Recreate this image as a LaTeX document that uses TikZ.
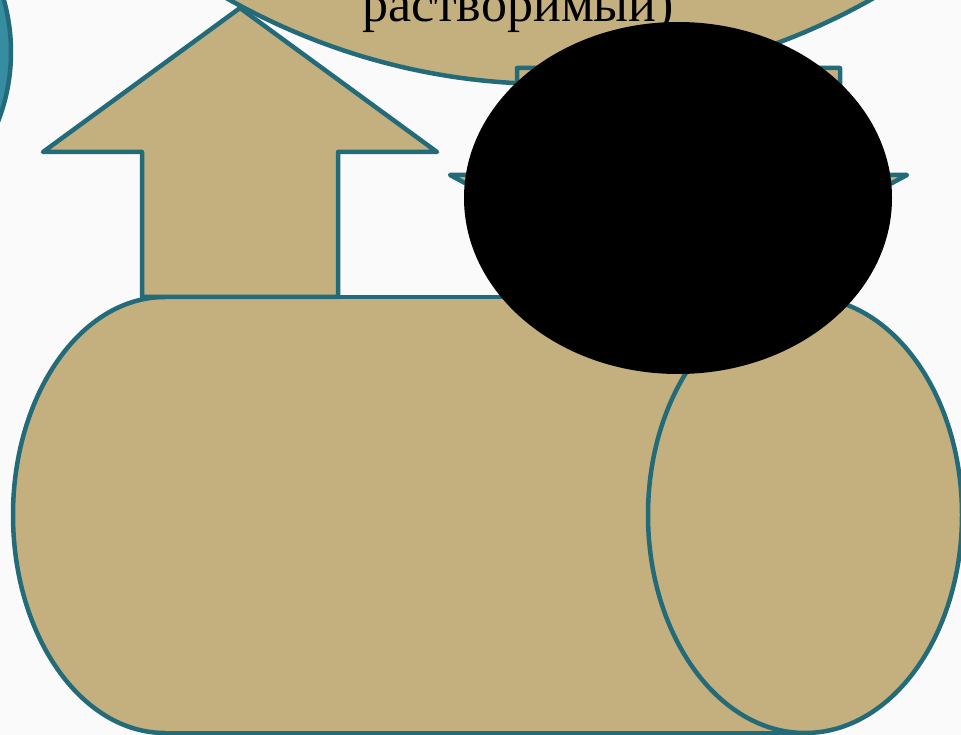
\documentclass[tikz,border=0pt]{standalone}
\usepackage{fontspec}
\setmainfont{Liberation Serif}
\definecolor{tanfill}{RGB}{196,176,126}
\definecolor{tealline}{RGB}{36,107,122}
\definecolor{tealfill}{RGB}{54,140,161}
\definecolor{bgcol}{RGB}{250,250,250}
\begin{document}
\begin{tikzpicture}[x=1pt,y=-1pt,
  tanshape/.style={fill=tanfill,draw=tealline,line width=4.5pt,line join=round},
  label/.style={font=\fontsize{52}{62}\selectfont,text=black,inner sep=0pt}]
\useasboundingbox (0,0) rectangle (961,735);
\clip (0,0) rectangle (961,735);
\fill[bgcol] (0,0) rectangle (961,735);
% teal circle at left edge
\draw[fill=tealfill,draw=tealline,line width=4.5pt] (-181,52) circle[radius=192];
% big top ellipse
\draw[tanshape] (550,-676) ellipse[x radius=700,y radius=760];
\node[label,anchor=base] (txt) at (518,22) {растворимый)};
% cylinder
\draw[tanshape] (165,515) ellipse[x radius=152,y radius=218];
\fill[tanfill] (165,297) rectangle (805,733);
\draw[tealline,line width=4.5pt] (165,297) -- (805,297);
\draw[tealline,line width=4.5pt] (165,733) -- (805,733);
\draw[tanshape] (805,515) ellipse[x radius=157,y radius=218];
% up arrow
\draw[tanshape] (142,297) -- (142,152) -- (43,152) -- (240,8) -- (437,152) -- (338,152) -- (338,297) -- cycle;
% down arrow
\draw[tanshape] (517,68) -- (840,68) -- (840,175) -- (907,175) -- (678.5,297) -- (450,175) -- (517,175) -- cycle;
% black ellipse
\fill[black] (678,198) ellipse[x radius=214,y radius=176];
\end{tikzpicture}
\end{document}
